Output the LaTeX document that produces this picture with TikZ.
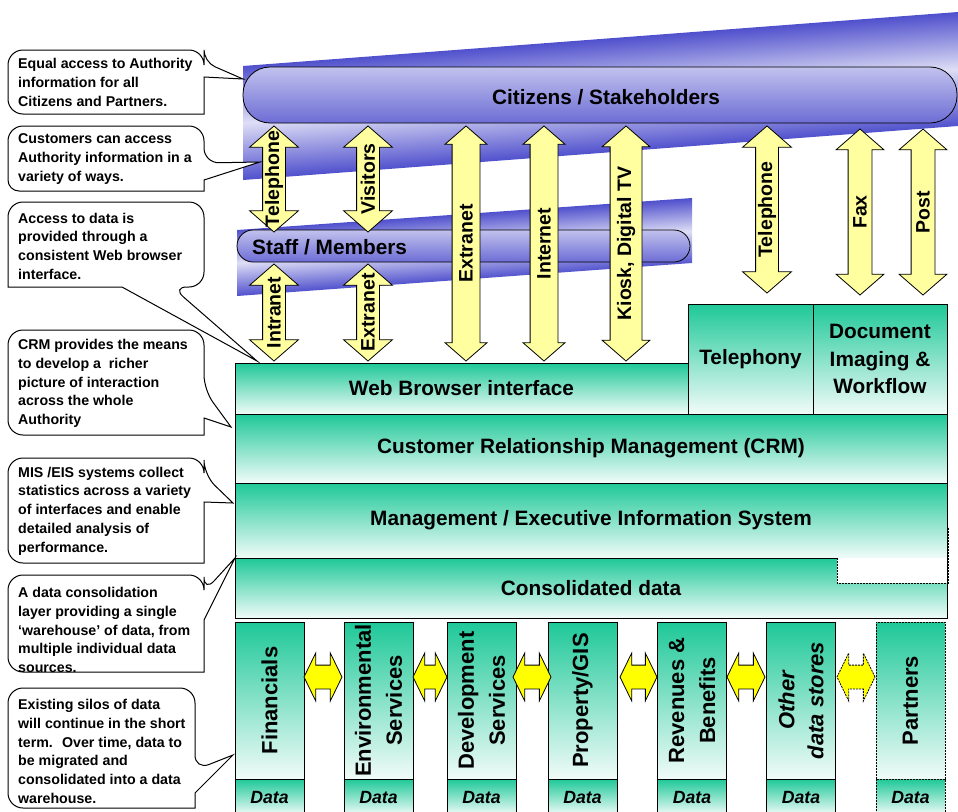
\documentclass[tikz,border=0pt]{standalone}
\usepackage{fontspec}
\setmainfont{Liberation Sans}
\usetikzlibrary{shapes.arrows}

\definecolor{bandblue}{RGB}{80,80,205}
\definecolor{bandlight}{RGB}{222,222,246}
\definecolor{layergreen}{RGB}{30,200,152}
\definecolor{chanyellow}{RGB}{255,255,160}
\definecolor{linkyellow}{RGB}{255,255,0}

\newcommand{\fsz}[2]{\fontsize{#1}{#2}\selectfont}

\tikzset{
    band/.style={top color=bandblue, bottom color=bandblue, middle color=bandlight},
    group/.style={draw, line width=0.8, top color=bandlight!80!bandblue, middle color=bandlight, bottom color=bandblue!80!bandlight, inner sep=0},
    grouplabel/.style={inner sep=0, font=\bfseries\fsz{20.8}{24}},
    chan/.style={double arrow, draw, line width=0.8, fill=chanyellow, rotate=90, double arrow tip angle=98, inner xsep=0, inner ysep=11, double arrow head extend=13},
    chanlabel/.style={rotate=90, inner sep=0, font=\bfseries\fsz{19.5}{22}},
    layer/.style={draw, line width=0.8, top color=layergreen, bottom color=white!94!layergreen, inner sep=0, align=center, font=\bfseries\fsz{20.8}{27.5}},
    silo/.style={draw, line width=0.8, top color=layergreen, bottom color=white!94!layergreen, minimum width=69, minimum height=157, inner sep=0},
    silolabel/.style={rotate=90, align=center, inner sep=0, font=\bfseries\fsz{22}{31}},
    datacell/.style={draw, line width=0.8, top color=layergreen, bottom color=white!94!layergreen, minimum width=69, minimum height=36, inner sep=0, font=\bfseries\itshape\fsz{17.7}{20}},
    link/.style={double arrow, draw, line width=0.8, fill=linkyellow, double arrow tip angle=128, inner xsep=0, inner ysep=11.5, double arrow head extend=12, minimum height=38},
    partnerline/.style={dash pattern=on 2pt off 1pt, line width=0.8},
    note/.style={draw, line width=1, fill=white, rounded corners=15},
    notetext/.style={anchor=west, align=left, inner sep=0, font=\bfseries\fsz{14.2}{18.7}}
}

\begin{document}
\begin{tikzpicture}[x=1pt, y=-1pt]
    \useasboundingbox (0,0) rectangle (958,811);
    \clip (0,0) rectangle (958,811);
    % Bands behind the two groups
    \begin{scope}
        \clip (243,66) -- (958,12) -- (958,126) -- (243,180) -- cycle;
        \shade[band, transform canvas={rotate around={4.3:(600,96)}}] (150,39) rectangle (1050,153);
    \end{scope}
    \begin{scope}
        \clip (237,230) -- (692,198) -- (692,263) -- (237,296) -- cycle;
        \shade[band, transform canvas={rotate around={4:(464.5,247)}}] (180,214) rectangle (750,280);
    \end{scope}
    % Groups
    \node[group, rounded corners=27, minimum width=714, minimum height=56] (citizens) at (600,95) {};
    \node[grouplabel] (citizensLabel) at (606,97) {Citizens / Stakeholders};
    \node[group, rounded corners=16, minimum width=453, minimum height=32] (staff) at (463.5,246) {};
    \node[grouplabel, anchor=west] (staffLabel) at (252,247) {Staff / Members};
    % Channels
    \node[chan, minimum height=106] (phoneUp) at (274,179) {};
    \node[chan, minimum height=106] (visitors) at (368,179) {};
    \node[chan, minimum height=97] (intranet) at (274,312.5) {};
    \node[chan, minimum height=97] (extranetLow) at (368,312.5) {};
    \node[chan, inner ysep=13.5, double arrow head extend=7, minimum height=235] (extranet) at (466,243.5) {};
    \node[chan, inner ysep=13.5, double arrow head extend=7, minimum height=235] (internet) at (544,243.5) {};
    \node[chan, inner ysep=15.5, double arrow head extend=8, minimum height=235] (kiosk) at (626,243.5) {};
    \node[chan, minimum height=167] (phone) at (767,209.5) {};
    \node[chan, inner ysep=11.5, double arrow head extend=12, minimum height=166] (fax) at (860,212) {};
    \node[chan, inner ysep=11.5, double arrow head extend=12, minimum height=166] (post) at (923,212) {};
    \node[chanlabel] (phoneUpLabel) at (phoneUp) {Telephone};
    \node[chanlabel] (visitorsLabel) at (visitors) {Visitors};
    \node[chanlabel] (intranetLabel) at (intranet) {Intranet};
    \node[chanlabel] (extranetLowLabel) at (extranetLow) {Extranet};
    \node[chanlabel] (extranetLabel) at (extranet) {Extranet};
    \node[chanlabel] (internetLabel) at (internet) {Internet};
    \node[chanlabel] (kioskLabel) at (kiosk) {Kiosk, Digital TV};
    \node[chanlabel] (phoneLabel) at (phone) {Telephone};
    \node[chanlabel] (faxLabel) at (fax) {Fax};
    \node[chanlabel] (postLabel) at (post) {Post};
    % Layers
    \node[layer, minimum width=453, minimum height=51] (web) at (461.5,388.5) {Web Browser interface};
    \node[layer, minimum width=125, minimum height=110] (telephony) at (750.5,359) {Telephony};
    \node[layer, minimum width=134, minimum height=110] (docImaging) at (880,359) {Document\\Imaging \&\\Workflow};
    \node[layer, minimum width=712, minimum height=69] (crm) at (591,448.5) {Customer Relationship Management (CRM)};
    \node[layer, minimum width=712, minimum height=75] (mis) at (591,520.5) {Management / Executive Information System};
    \node[layer, minimum width=712, minimum height=60] (consolidated) at (591,588) {Consolidated data};
    \fill[white] (837,558) rectangle (947,583);
    \draw[partnerline] (837,558) |- (948,583) -- (948,527);
    % Silos
    \node[silo] (financials) at (269.5,700.5) {};
    \node[silo] (environmental) at (378.5,700.5) {};
    \node[silo] (development) at (481.5,700.5) {};
    \node[silo] (property) at (582.5,700.5) {};
    \node[silo] (revenues) at (692,700.5) {};
    \node[silo] (otherStores) at (801,700.5) {};
    \node[silo, partnerline] (partners) at (910.5,700.5) {};
    \node[silolabel] (financialsLabel) at (financials) {Financials};
    \node[silolabel] (environmentalLabel) at (environmental) {Environmental\\Services};
    \node[silolabel] (developmentLabel) at (development) {Development\\Services};
    \node[silolabel] (propertyLabel) at (property) {Property/GIS};
    \node[silolabel] (revenuesLabel) at (revenues) {Revenues \&\\Benefits};
    \node[silolabel, font=\bfseries\itshape\fsz{22}{29}] (otherStoresLabel) at (otherStores) {Other\\data stores};
    \node[silolabel] (partnersLabel) at (partners) {Partners};
    \node[datacell] (financialsData) at (269.5,797) {Data};
    \node[datacell] (environmentalData) at (378.5,797) {Data};
    \node[datacell] (developmentData) at (481.5,797) {Data};
    \node[datacell] (propertyData) at (582.5,797) {Data};
    \node[datacell] (revenuesData) at (692,797) {Data};
    \node[datacell] (otherStoresData) at (801,797) {Data};
    \node[datacell, partnerline] (partnersData) at (910.5,797) {Data};
    % Links between silos
    \node[link] (linkA) at (323,677) {};
    \node[link, minimum height=34] (linkB) at (430,677) {};
    \node[link] (linkC) at (532,677) {};
    \node[link, minimum height=37] (linkD) at (638.5,677) {};
    \node[link] (linkE) at (746,677) {};
    \node[link, partnerline] (linkF) at (856,677) {};
    % Callouts
    \draw[note] (8,82) -- (8,50) -- (204,50) [rounded corners=12] -- (204,62) [sharp corners] -- (243,79) -- (204,77) -- (204,114) [rounded corners=15] -- (8,114) -- cycle;
    \draw[note] (8,158) -- (8,126) -- (204,126) -- (204,163) [sharp corners] -- (260,162) -- (204,180) -- (204,191) [rounded corners=11] -- (8,191) [rounded corners=15] -- cycle;
    \draw[note] (8,382) -- (8,330) -- (204,330) -- (204,390) [sharp corners] -- (231,427) -- (204,418) -- (204,435) [rounded corners=15] -- (8,435) -- cycle;
    \draw[note] (8,244) -- (8,202) -- (204,202) -- (204,287) -- (172,287) [sharp corners] -- (257,361) -- (122,287) -- (8,287) [rounded corners=15] -- cycle;
    \draw[note] (8,510) -- (8,458) -- (204,458) -- (204,475) [sharp corners] -- (233,503) -- (204,502) -- (204,563) [rounded corners=15] -- (8,563) -- cycle;
    \draw[note] (8,623) -- (8,575) -- (204,575) -- (204,592) [sharp corners] -- (235,558) -- (204,620) -- (204,672) [rounded corners=15] -- (8,672) -- cycle;
    \draw[note] (8,748) -- (8,688) -- (195,688) -- (195,770) [sharp corners] -- (233,755) -- (195,793) -- (195,808) [rounded corners=15] -- (8,808) -- cycle;
    \node[notetext] (note1) at (18,82.5) {Equal access to Authority\\information for all\\Citizens and Partners.};
    \node[notetext] (note2) at (18,159) {Customers can access\\Authority information in a\\variety of ways.};
    \node[notetext] (note3) at (18,246) {Access to data is\\provided through a\\consistent Web browser\\interface.};
    \node[notetext] (note4) at (18,383.5) {CRM provides the means\\to develop a~ richer\\picture of interaction\\across the whole\\Authority};
    \node[notetext] (note5) at (18,511) {MIS /EIS systems collect\\statistics across a variety\\of interfaces and enable\\detailed analysis of\\performance.};
    \node[notetext] (note6) at (18,630) {A data consolidation\\layer providing a single\\`warehouse' of data, from\\multiple individual data\\sources.};
    \node[notetext] (note7) at (18,751.5) {Existing silos of data\\will continue in the short\\term.~ Over time, data to\\be migrated and\\consolidated into a data\\warehouse.};
\end{tikzpicture}
\end{document}
